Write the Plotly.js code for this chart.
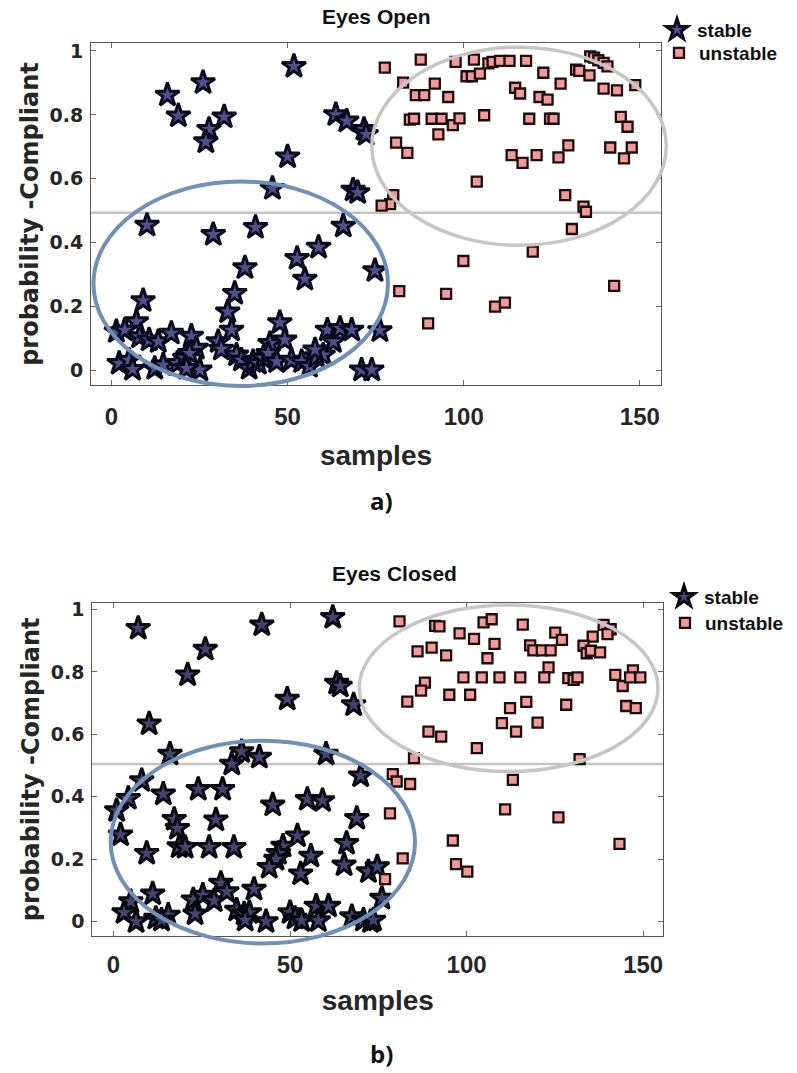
<!DOCTYPE html>
<html>
<head>
<meta charset="utf-8">
<script src="https://cdn.plot.ly/plotly-3.0.1.min.js"></script>
<style>html,body{margin:0;padding:0;background:#fff;}#chart{width:797px;height:1073px;}</style>
</head>
<body>
<div id="chart"></div>
<script>
// ---------------- DATA ----------------
const seriesNames = ["stable", "unstable"];
const panelTitles = ["Eyes Open", "Eyes Closed"];
const panelLabels = ["a)", "b)"];
const xTickVals = [0, 50, 100, 150];
const yTickVals = [0, 0.2, 0.4, 0.6, 0.8, 1];
const yTickText = ["0", "0.2", "0.4", "0.6", "0.8", "1"];
const thresholds = [0.494, 0.505];

// Eyes Open - stable (stars)
const openStableX = [51.8,26.0,15.9,19.0,32.0,27.7,26.8,63.7,66.8,71.7,72.3,50.0,45.7,68.6,69.9,10.1,28.9,40.9,65.8,58.8,52.7,54.9,37.9,74.8,35.0,33.0,9.0,34.1,47.8,7.1,1.4,3.8,8.0,10.7,13.3,17.0,22.7,24.1,30.3,31.2,45.0,49.2,61.3,63.0,64.9,68.2,76.2,2.2,5.0,6.0,12.3,14.7,18.7,20.8,22.2,25.1,21.3,35.5,36.9,39.1,40.2,41.7,43.1,44.5,46.9,51.1,54.0,56.2,58.2,60.1,57.8,71.0,73.9];
const openStableY = [0.952,0.901,0.862,0.797,0.794,0.755,0.716,0.801,0.781,0.755,0.739,0.669,0.570,0.565,0.557,0.455,0.426,0.448,0.452,0.386,0.351,0.286,0.322,0.313,0.242,0.184,0.219,0.127,0.150,0.153,0.122,0.127,0.106,0.096,0.091,0.117,0.108,0.070,0.091,0.067,0.085,0.096,0.127,0.091,0.132,0.127,0.125,0.023,0.033,0.004,0.007,0.018,0.023,0.039,0.054,0.002,0.007,0.049,0.033,0.007,0.028,0.023,0.039,0.054,0.028,0.033,0.028,0.013,0.044,0.049,0.065,0.002,0.002];

// Eyes Open - unstable (squares)
const openUnstableX = [77.6,87.8,97.7,102.9,107.0,108.2,110.3,113.0,117.7,122.6,127.5,135.9,137.0,138.2,139.7,140.8,131.9,132.8,135.7,139.7,143.5,148.7,82.8,91.8,86.4,88.8,95.6,100.8,102.3,104.6,114.6,116.0,121.5,123.8,84.7,85.9,90.9,93.7,96.9,98.8,92.8,105.8,118.6,124.5,125.5,144.6,146.5,80.8,84.0,113.6,116.7,120.7,126.9,129.7,141.6,147.7,145.5,103.7,80.0,79.1,76.7,128.8,134.0,134.7,130.7,119.6,99.9,81.7,95.0,142.7,108.9,111.7,89.9];
const openUnstableY = [0.948,0.973,0.966,0.973,0.961,0.966,0.969,0.969,0.969,0.932,0.898,0.983,0.979,0.971,0.963,0.952,0.942,0.938,0.924,0.882,0.877,0.893,0.901,0.898,0.862,0.862,0.856,0.921,0.921,0.929,0.885,0.867,0.856,0.848,0.785,0.788,0.788,0.788,0.768,0.789,0.739,0.799,0.788,0.788,0.788,0.794,0.763,0.713,0.681,0.674,0.650,0.674,0.667,0.705,0.698,0.698,0.664,0.591,0.549,0.521,0.516,0.549,0.513,0.497,0.443,0.372,0.343,0.249,0.240,0.265,0.200,0.213,0.148];

// Eyes Closed - stable (stars)
const closedStableX = [7.0,42.0,62.1,26.0,21.0,63.2,64.2,49.2,68.0,10.1,16.0,36.3,41.3,33.5,60.2,70.0,8.0,4.2,14.1,24.0,30.9,0.9,45.1,54.9,59.2,17.2,18.1,29.0,68.9,2.0,9.4,18.6,20.3,27.1,34.1,48.0,46.7,52.1,66.0,46.0,44.1,55.9,53.0,65.3,72.2,74.7,30.4,11.1,4.9,22.6,25.3,28.5,32.1,39.8,3.0,6.4,12.0,15.5,13.6,23.1,34.9,37.0,38.5,37.3,43.2,50.0,51.4,53.3,57.4,58.0,60.9,67.5,70.8,72.8,76.0,73.6];
const closedStableY = [0.940,0.951,0.975,0.873,0.791,0.764,0.755,0.713,0.695,0.634,0.537,0.545,0.527,0.505,0.537,0.467,0.452,0.395,0.409,0.424,0.424,0.356,0.374,0.392,0.388,0.328,0.299,0.326,0.331,0.278,0.219,0.240,0.238,0.238,0.238,0.242,0.219,0.275,0.251,0.200,0.174,0.210,0.153,0.182,0.160,0.176,0.123,0.089,0.064,0.070,0.085,0.067,0.096,0.104,0.029,0.000,0.011,0.021,0.005,0.025,0.037,0.025,0.029,0.005,0.000,0.029,0.011,0.003,0.050,0.003,0.050,0.016,0.005,0.000,0.075,0.005];

// Eyes Closed - unstable (squares)
const closedUnstableX = [81.0,91.1,92.3,104.8,107.1,115.9,98.0,102.1,107.9,125.1,127.0,138.8,140.8,139.9,135.7,86.1,90.1,94.2,105.9,118.0,118.9,121.3,123.8,133.1,134.0,135.2,137.8,123.2,88.2,87.1,83.2,95.1,99.1,101.0,104.3,109.3,115.2,122.0,128.8,130.3,131.4,142.1,144.2,147.1,146.3,149.2,116.9,112.3,128.2,145.2,147.9,110.0,114.0,120.1,89.2,92.8,102.9,85.1,132.0,79.1,80.2,84.0,113.1,78.3,110.9,126.0,96.1,143.3,81.9,97.0,100.2,76.9];
const closedUnstableY = [0.962,0.948,0.946,0.959,0.969,0.952,0.924,0.906,0.890,0.926,0.903,0.951,0.937,0.921,0.913,0.866,0.878,0.853,0.844,0.885,0.869,0.869,0.869,0.884,0.860,0.868,0.863,0.815,0.766,0.740,0.705,0.727,0.783,0.727,0.783,0.783,0.783,0.783,0.780,0.775,0.783,0.791,0.755,0.805,0.783,0.783,0.704,0.684,0.695,0.691,0.684,0.636,0.609,0.638,0.609,0.593,0.556,0.524,0.521,0.473,0.449,0.441,0.454,0.347,0.360,0.334,0.260,0.249,0.203,0.184,0.160,0.136];

// Highlight ellipses (data units): [cx, cy, rx, ry]
const openStableEllipse = [36.7, 0.272, 41.8, 0.320];
const openUnstableEllipse = [115.7, 0.702, 41.8, 0.310];
const closedStableEllipse = [42.3, 0.255, 43.1, 0.325];
const closedUnstableEllipse = [111.9, 0.748, 42.3, 0.267];

// ---------------- STYLE / LAYOUT ----------------
const W = 797, H = 1073;
const panels = [
  {xr: [-5.8, 156], yr: [-0.045, 1.025], xd: [91/W, 661/W], yd: [1 - 385/H, 1 - 43/H]},
  {xr: [-6.0, 155.7], yr: [-0.046, 1.022], xd: [92.3/W, 663.3/W], yd: [1 - 936/H, 1 - 602.7/H]}
];
const textColor = '#262626';
const starMarkerTop = {symbol: 'star', size: 18, color: '#50508a', line: {color: '#0a0a1e', width: 3}};
const starMarkerBottom = {symbol: 'star', size: 18, color: '#444470', line: {color: '#08080f', width: 3}};
const squareMarker = {symbol: 'square', size: 10, color: '#f29a9a', line: {color: '#1c0c0c', width: 2.3}};

function toPaper(p, x, y) {
  const P = panels[p];
  return [P.xd[0] + (x - P.xr[0]) / (P.xr[1] - P.xr[0]) * (P.xd[1] - P.xd[0]),
          P.yd[0] + (y - P.yr[0]) / (P.yr[1] - P.yr[0]) * (P.yd[1] - P.yd[0])];
}
function ellipseShape(p, e, color, width) {
  const a = toPaper(p, e[0] - e[2], e[1] - e[3]);
  const b = toPaper(p, e[0] + e[2], e[1] + e[3]);
  return {type: 'circle', xref: 'paper', yref: 'paper', x0: a[0], y0: a[1], x1: b[0], y1: b[1],
          line: {color: color, width: width}, layer: 'above'};
}

const traces = [
  {x: openStableX, y: openStableY, xaxis: 'x', yaxis: 'y', type: 'scatter', mode: 'markers', name: seriesNames[0], marker: starMarkerTop, legend: 'legend'},
  {x: openUnstableX, y: openUnstableY, xaxis: 'x', yaxis: 'y', type: 'scatter', mode: 'markers', name: seriesNames[1], marker: squareMarker, legend: 'legend2'},
  {x: closedStableX, y: closedStableY, xaxis: 'x2', yaxis: 'y2', type: 'scatter', mode: 'markers', name: seriesNames[0], marker: starMarkerBottom, legend: 'legend3'},
  {x: closedUnstableX, y: closedUnstableY, xaxis: 'x2', yaxis: 'y2', type: 'scatter', mode: 'markers', name: seriesNames[1], marker: squareMarker, legend: 'legend4'}
];

function xAxis(p, anchor) {
  return {
    domain: panels[p].xd, range: panels[p].xr, anchor: anchor,
    tickvals: xTickVals, ticks: 'inside', ticklen: 5, tickcolor: '#666', tickwidth: 1,
    showline: true, linecolor: '#555', linewidth: 1, mirror: 'ticks',
    showgrid: false, zeroline: false, ticklabelstandoff: p === 0 ? 10 : 7,
    tickfont: {family: 'Liberation Sans, Arial, sans-serif', size: 24, color: textColor, weight: 'bold'},
    title: {text: 'samples', standoff: p === 0 ? 16 : 13, font: {family: 'Liberation Sans, Arial, sans-serif', size: 28, color: textColor, weight: 'bold'}}
  };
}
function yAxis(p, anchor) {
  return {
    domain: panels[p].yd, range: panels[p].yr, anchor: anchor,
    tickvals: yTickVals, ticktext: yTickText, ticks: 'inside', ticklen: 5, tickcolor: '#666', tickwidth: 1,
    showline: true, linecolor: '#555', linewidth: 1, mirror: 'ticks',
    showgrid: false, zeroline: false, ticklabelstandoff: 3,
    tickfont: {family: 'DejaVu Sans, sans-serif', size: 19, color: textColor, weight: 'bold'},
    title: {text: 'probability -Compliant', standoff: 4, font: {family: 'DejaVu Sans, sans-serif', size: 24, color: textColor, weight: 'bold'}}
  };
}
function legendAt(px, py) {
  return {x: (px - 20) / W, y: 1 - py / H, xanchor: 'left', yanchor: 'middle', bgcolor: 'rgba(0,0,0,0)',
          borderwidth: 0, itemwidth: 30, tracegroupgap: 0,
          font: {family: 'Liberation Sans, Arial, sans-serif', size: 19, color: '#111', weight: 'bold'}};
}

const annFont = {family: 'Liberation Sans, Arial, sans-serif', size: 21, color: '#111', weight: 'bold'};
const labFont = {family: 'Open Sans, sans-serif', size: 24, color: '#111', weight: 'bold'};
const layout = {
  width: W, height: H, margin: {l: 0, r: 0, t: 0, b: 0},
  paper_bgcolor: '#fff', plot_bgcolor: '#fff', showlegend: true,
  xaxis: xAxis(0, 'y'), yaxis: yAxis(0, 'x'),
  xaxis2: xAxis(1, 'y2'), yaxis2: yAxis(1, 'x2'),
  legend: legendAt(677, 30), legend2: legendAt(679, 53),
  legend3: legendAt(684, 597), legend4: legendAt(685, 623),
  shapes: [
    {type: 'line', xref: 'x domain', yref: 'y', x0: 0, x1: 1, y0: thresholds[0], y1: thresholds[0], line: {color: '#c4c4c4', width: 2.5}, layer: 'below'},
    {type: 'line', xref: 'x2 domain', yref: 'y2', x0: 0, x1: 1, y0: thresholds[1], y1: thresholds[1], line: {color: '#c4c4c4', width: 2.5}, layer: 'below'},
    ellipseShape(0, openStableEllipse, '#7090b9', 4),
    ellipseShape(0, openUnstableEllipse, '#c6c6c6', 3.5),
    ellipseShape(1, closedStableEllipse, '#7090b9', 4),
    ellipseShape(1, closedUnstableEllipse, '#c6c6c6', 3.5)
  ],
  annotations: [
    {text: panelTitles[0], xref: 'paper', yref: 'paper', x: 376 / W, y: 1 - 17 / H, showarrow: false, font: annFont, xanchor: 'center', yanchor: 'middle'},
    {text: panelTitles[1], xref: 'paper', yref: 'paper', x: 394 / W, y: 1 - 573 / H, showarrow: false, font: annFont, xanchor: 'center', yanchor: 'middle'},
    {text: panelLabels[0], xref: 'paper', yref: 'paper', x: 381 / W, y: 1 - 500 / H, showarrow: false, font: labFont, xanchor: 'center', yanchor: 'middle'},
    {text: panelLabels[1], xref: 'paper', yref: 'paper', x: 381 / W, y: 1 - 1053 / H, showarrow: false, font: labFont, xanchor: 'center', yanchor: 'middle'}
  ]
};

Plotly.newPlot('chart', traces, layout, {displayModeBar: false, staticPlot: true});
</script>
</body>
</html>
